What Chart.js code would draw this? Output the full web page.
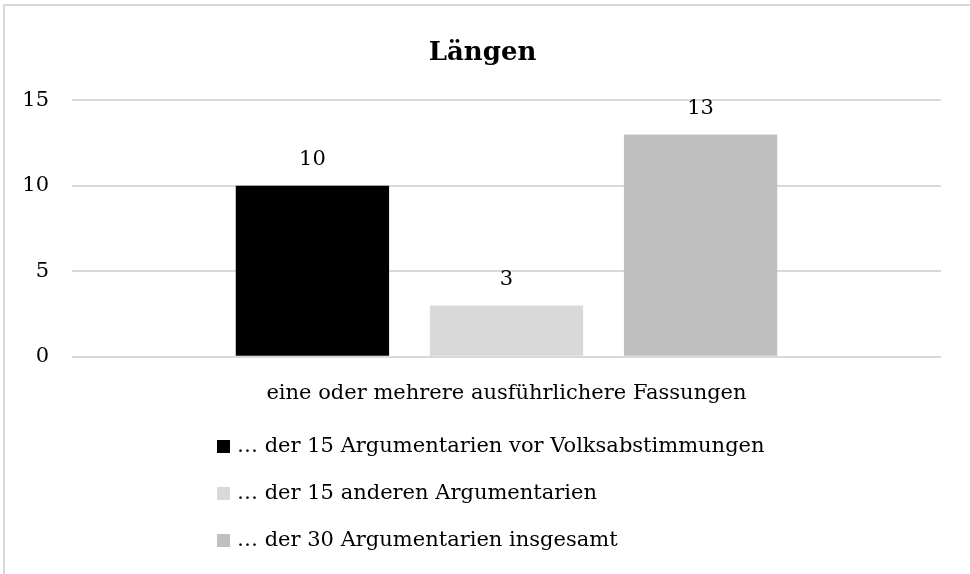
<!DOCTYPE html>
<html><head><meta charset="utf-8">
<script src="https://cdn.jsdelivr.net/npm/chart.js@4"></script>
<style>
html,body{margin:0;padding:0;background:#fff;overflow:hidden;}
#wrap{position:relative;width:970px;height:574px;overflow:hidden;}
#frame{position:absolute;left:3px;top:4px;width:1000px;height:600px;border-left:2px solid #d9d9d9;border-top:2px solid #d9d9d9;box-sizing:border-box;pointer-events:none;}
canvas{position:absolute;left:0;top:0;}
</style></head>
<body>
<div id="wrap"><canvas id="c" width="970" height="574"></canvas><div id="frame"></div></div>
<script>
const titleText = "Längen";
const categories = ["eine oder mehrere ausführlichere Fassungen"];
const seriesNames = ["… der 15 Argumentarien vor Volksabstimmungen", "… der 15 anderen Argumentarien", "… der 30 Argumentarien insgesamt"];
const seriesValues = [[10], [3], [13]];
const seriesColors = ["#000000", "#d9d9d9", "#bfbfbf"];
const yTicks = [0, 5, 10, 15];

const FONT = "'DejaVu Serif', serif";
const FS = 21;

const dataLabels = {
  id: 'dataLabels',
  afterDatasetsDraw(chart) {
    const ctx = chart.ctx;
    ctx.save();
    ctx.font = FS + "px " + FONT;
    ctx.fillStyle = "#000";
    ctx.textAlign = "center";
    ctx.textBaseline = "middle";
    chart.data.datasets.forEach((ds, i) => {
      chart.getDatasetMeta(i).data.forEach((bar, j) => {
        ctx.fillText(String(ds.data[j]), bar.x, bar.y - 26);
      });
    });
    ctx.restore();
  }
};

const vLegend = {
  id: 'vLegend',
  afterDraw(chart) {
    const ctx = chart.ctx;
    ctx.save();
    ctx.font = FS + "px " + FONT;
    ctx.textAlign = "left";
    ctx.textBaseline = "middle";
    chart.data.datasets.forEach((ds, i) => {
      const y = 447 + i * 47;
      ctx.fillStyle = ds.backgroundColor;
      ctx.fillRect(217, y - 7, 13, 13);
      ctx.fillStyle = "#000";
      ctx.fillText(ds.label, 237, y);
    });
    ctx.restore();
  }
};

new Chart(document.getElementById('c'), {
  type: 'bar',
  data: {
    labels: categories,
    datasets: seriesNames.map((n, i) => ({
      label: n,
      data: seriesValues[i],
      backgroundColor: seriesColors[i],
      categoryPercentage: 0.67,
      barPercentage: 0.79
    }))
  },
  options: {
    responsive: false,
    animation: false,
    layout: { padding: { left: 24, right: 29, top: 0, bottom: 144 } },
    plugins: {
      legend: { display: false },
      tooltip: { enabled: false },
      title: {
        display: true, text: titleText, color: "#000",
        font: { family: FONT, size: 26, weight: 'bold' },
        padding: { top: 38, bottom: 31 }
      }
    },
    scales: {
      x: {
        grid: { display: false, drawTicks: false },
        border: { display: false },
        ticks: { color: "#000", font: { family: FONT, size: FS }, padding: 24, maxRotation: 0 }
      },
      y: {
        min: 0, max: 15,
        afterBuildTicks(s) { s.ticks = yTicks.map(v => ({ value: v })); },
        afterFit(s) { s.width = 48; },
        grid: { color: "#d9d9d9", lineWidth: 2, drawTicks: false },
        border: { display: false },
        ticks: { color: "#000", font: { family: FONT, size: FS }, padding: 23 }
      }
    }
  },
  plugins: [dataLabels, vLegend]
});
</script>
</body></html>
